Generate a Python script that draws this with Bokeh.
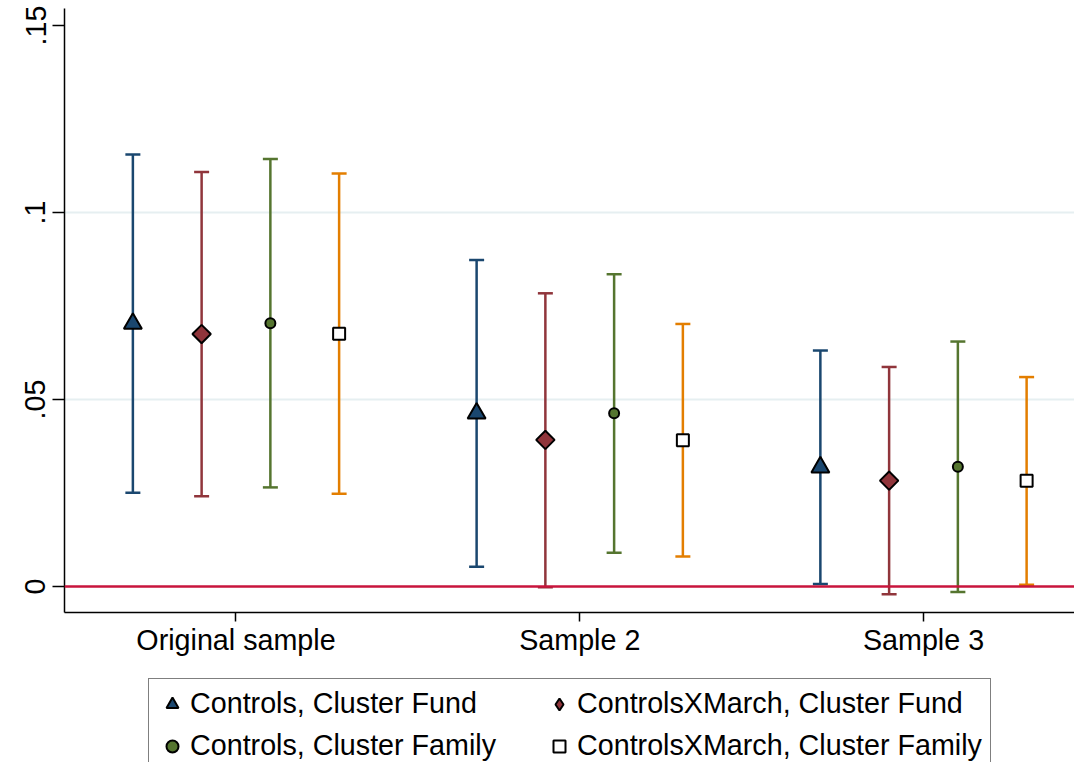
import math
from bokeh.plotting import figure
from bokeh.layouts import column
from bokeh.models import (Range1d, FixedTicker, Span, Whisker, TeeHead,
                          ColumnDataSource, Legend, LegendItem)
from bokeh.embed import file_html
from bokeh.resources import INLINE

# ---------------- data ----------------
categories = ["Original sample", "Sample 2", "Sample 3"]
group_pos = [1, 2, 3]

series_names = ["Controls, Cluster Fund", "ControlsXMarch, Cluster Fund",
                "Controls, Cluster Family", "ControlsXMarch, Cluster Family"]

est_ctrl_fund = [0.0703, 0.0463, 0.0319]
lo_ctrl_fund = [0.0251, 0.0053, 0.0007]
hi_ctrl_fund = [0.1155, 0.0873, 0.0631]

est_march_fund = [0.0675, 0.0392, 0.0283]
lo_march_fund = [0.0241, -0.0002, -0.0021]
hi_march_fund = [0.1108, 0.0784, 0.0587]

est_ctrl_family = [0.0704, 0.0463, 0.0320]
lo_ctrl_family = [0.0265, 0.0090, -0.0015]
hi_ctrl_family = [0.1143, 0.0835, 0.0655]

est_march_family = [0.0676, 0.0391, 0.0283]
lo_march_family = [0.0248, 0.0080, 0.0005]
hi_march_family = [0.1104, 0.0702, 0.0560]

y_ticks = [0, 0.05, 0.1, 0.15]
y_tick_labels = ["0", ".05", ".1", ".15"]

# ---------------- style ----------------
FONT = "Liberation Sans"
FS = "28.7px"
offsets = [-0.3, -0.1, 0.1, 0.3]
bar_colors = ["#1a476f", "#90353b", "#55752f", "#e37e00"]
fill_colors = ["#1a476f", "#90353b", "#55752f", "white"]
markers = ["triangle", "square", "circle", "square"]
legend_markers = ["triangle", "diamond", "circle", "square"]
angles = [0, math.pi / 4, 0, 0]
sizes = [18, 13, 10, 12]

W = 1074
H_MAIN = 670
H_LEG = 92

p = figure(width=W, height=H_MAIN, output_backend="svg", toolbar_location=None,
           x_range=Range1d(0.5011, 3.4393), y_range=Range1d(-0.00695, 0.15455),
           min_border_left=64, min_border_right=0, min_border_top=8,
           min_border_bottom=H_MAIN - 612)
p.outline_line_color = None
p.background_fill_color = "white"
p.border_fill_color = "white"

# axes
p.yaxis.ticker = FixedTicker(ticks=y_ticks)
p.yaxis.major_label_overrides = {t: l for t, l in zip(y_ticks, y_tick_labels)}
p.yaxis.major_label_orientation = "vertical"
p.xaxis.ticker = FixedTicker(ticks=group_pos)
p.xaxis.major_label_overrides = {g: c for g, c in zip(group_pos, categories)}
for ax in (p.xaxis[0], p.yaxis[0]):
    ax.axis_line_color = "black"
    ax.axis_line_width = 1.5
    ax.major_tick_line_color = "black"
    ax.major_tick_line_width = 1.5
    ax.major_tick_in = 0
    ax.minor_tick_line_color = None
    ax.major_label_text_font = FONT
    ax.major_label_text_font_size = FS
    ax.major_label_text_color = "black"
p.yaxis.major_tick_out = 12
p.yaxis.major_label_standoff = 7
p.xaxis.major_tick_out = 9
p.xaxis.major_label_standoff = 2

# grid
p.xgrid.grid_line_color = None
p.ygrid.ticker = FixedTicker(ticks=[0.05, 0.1])
p.ygrid.grid_line_color = "#e6eff1"
p.ygrid.grid_line_width = 2

series = [
    (est_ctrl_fund, lo_ctrl_fund, hi_ctrl_fund),
    (est_march_fund, lo_march_fund, hi_march_fund),
    (est_ctrl_family, lo_ctrl_family, hi_ctrl_family),
    (est_march_family, lo_march_family, hi_march_family),
]

sources = []
for k, (est, lo, hi) in enumerate(series):
    xs = [g + offsets[k] for g in group_pos]
    src = ColumnDataSource(dict(x=xs, est=est, lo=lo, hi=hi))
    sources.append(src)
    w = Whisker(base="x", lower="lo", upper="hi", source=src, dimension="height",
                line_color=bar_colors[k], line_width=2.5,
                upper_head=TeeHead(size=15, line_color=bar_colors[k], line_width=2.5),
                lower_head=TeeHead(size=15, line_color=bar_colors[k], line_width=2.5))
    p.add_layout(w)

zero = Span(location=0, dimension="width", line_color="#c8143c", line_width=2.5)
p.add_layout(zero)

for k in range(4):
    r = p.scatter("x", "est", source=sources[k], marker=markers[k], size=sizes[k],
                  angle=angles[k], fill_color=fill_colors[k], line_color="black",
                  line_width=2)
    r.level = "overlay"

# ---------------- legend (separate strip below the plot) ----------------
# ranges chosen so that the legend-proxy glyphs fall outside the view
leg = figure(width=W, height=H_LEG, output_backend="svg", toolbar_location=None,
             x_range=Range1d(100, 101), y_range=Range1d(100, 101),
             min_border_left=0, min_border_right=0, min_border_top=0,
             min_border_bottom=0)
leg.axis.visible = False
leg.grid.visible = False
leg.outline_line_color = None
leg.background_fill_color = "white"
leg.border_fill_color = "white"

proxies = []
for k in range(4):
    r = leg.scatter("x", "est", source=sources[k], marker=legend_markers[k],
                    size=sizes[k], fill_color=fill_colors[k], line_color="black",
                    line_width=2)
    proxies.append(r)

# column-major fill: first column = Controls (Fund, Family), second = ControlsXMarch
order = [0, 2, 1, 3]
items = [LegendItem(label=series_names[k], renderers=[proxies[k]]) for k in order]

legend = Legend(items=items, ncols=2, location=(84, -9),
                label_text_font=FONT, label_text_font_size=FS,
                label_text_color="black",
                glyph_width=30, glyph_height=30, label_height=32,
                label_width=345,
                label_standoff=3, spacing=9, padding=8, margin=0,
                border_line_color="black", border_line_width=1.5,
                background_fill_alpha=1.0)
leg.add_layout(legend, "center")

layout = column(p, leg, spacing=0)
open("out.html", "w").write(file_html(layout, INLINE))
